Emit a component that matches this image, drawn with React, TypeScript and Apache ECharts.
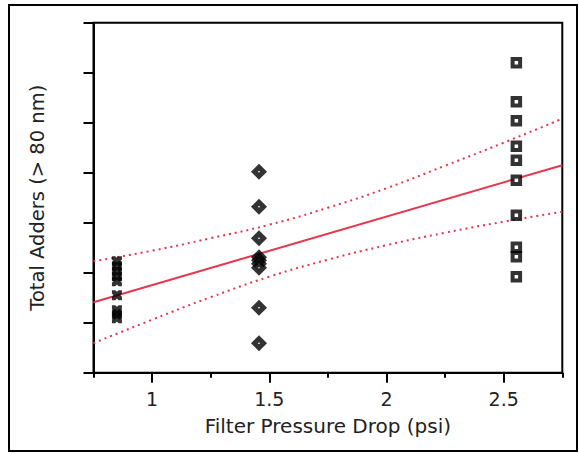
import React, { useEffect, useRef } from "react";
import * as echarts from "echarts";

// x positions of the three filter groups (psi)
const groupX = [0.85, 1.456, 2.554];
// Total adders (tick units, axis unlabeled)
const group1Y = [22.3, 21.3, 20.3, 19.3, 18.3, 15.5, 12.5, 11.7, 10.9];
const group2Y = [40.2, 33.2, 26.9, 23.1, 22.5, 21.8, 21.0, 13.0, 5.9];
const group3Y = [62.0, 54.2, 50.4, 45.3, 42.5, 38.5, 31.5, 25.1, 23.2, 19.2];

const fitX = [0.75, 2.75];
const fitY = [14.1, 41.5];

const bandX = [0.75, 1.0, 1.25, 1.5, 1.75, 2.0, 2.25, 2.5, 2.75];
const upperY = [22.3, 24.4, 26.9, 29.6, 33.0, 36.9, 41.4, 46.0, 50.8];
const lowerY = [5.9, 10.6, 15.1, 19.2, 22.6, 25.5, 28.0, 30.2, 32.2];

const majorTicks = [1, 1.5, 2, 2.5];
const minorTicks = [0.75, 1.25, 1.75, 2.25, 2.75];

const xName = "Filter Pressure Drop (psi)";
const yName = "Total Adders (> 80 nm)";

const pair = (xs: number[], ys: number[]) => ys.map((y, i) => [xs[i], y]);
const col = (x: number, ys: number[]) => ys.map((y) => [x, y]);

const X_PATH =
  "path://M0,0 L2.7,0 L4,1.3 L5.3,0 L8,0 L8,2.7 L6.7,4 L8,5.3 L8,8 L5.3,8 L4,6.7 L2.7,8 L0,8 L0,5.3 L1.3,4 L0,2.7 Z";

export default function App() {
  const ref = useRef<HTMLDivElement>(null);
  useEffect(() => {
    if (!ref.current) return;
    const chart = echarts.init(ref.current, undefined, { renderer: "svg" });
    const font = "DejaVu Sans";
    const red = "#e8354e";
    chart.setOption({
      animation: false,
      backgroundColor: "#fff",
      grid: {
        left: 93.5,
        top: 22.7,
        right: 16.7,
        bottom: 80.3,
        show: true,
        borderColor: "#000",
        borderWidth: 2,
        backgroundColor: "transparent",
      },
      graphic: [
        {
          type: "rect",
          shape: { x: 9, y: 5, width: 568, height: 446 },
          style: { fill: "none", stroke: "#000", lineWidth: 2 },
          silent: true,
        },
      ],
      xAxis: [
        {
          type: "value",
          min: 0.75,
          max: 2.75,
          interval: 0.25,
          name: xName,
          nameLocation: "middle",
          nameGap: 43,
          nameTextStyle: { fontFamily: font, fontSize: 20, color: "#222" },
          axisLine: { show: true, onZero: false, lineStyle: { color: "#000", width: 2 } },
          axisTick: {
            show: true,
            customValues: majorTicks,
            length: 10,
            lineStyle: { color: "#000", width: 2 },
          },
          axisLabel: {
            customValues: majorTicks,
            margin: 17,
            fontFamily: font,
            fontSize: 19,
            color: "#222",
          },
          splitLine: { show: false },
        },
        {
          type: "value",
          min: 0.75,
          max: 2.75,
          interval: 0.25,
          position: "bottom",
          axisLine: { show: false, onZero: false },
          axisTick: {
            show: true,
            customValues: minorTicks,
            length: 5,
            lineStyle: { color: "#000", width: 2 },
          },
          axisLabel: { show: false },
          splitLine: { show: false },
        },
      ],
      yAxis: {
        type: "value",
        min: 0,
        max: 70,
        interval: 10,
        name: yName,
        nameLocation: "middle",
        nameGap: 46,
        nameTextStyle: { fontFamily: font, fontSize: 19.5, color: "#222" },
        axisLine: { show: true, onZero: false, lineStyle: { color: "#000", width: 2 } },
        axisTick: { show: true, length: 10, lineStyle: { color: "#000", width: 2 } },
        axisLabel: { show: false },
        splitLine: { show: false },
      },
      series: [
        {
          type: "line",
          data: pair(bandX, upperY),
          smooth: true,
          symbol: "none",
          lineStyle: { color: red, width: 2, type: [2, 4] },
          z: 2,
        },
        {
          type: "line",
          data: pair(bandX, lowerY),
          smooth: true,
          symbol: "none",
          lineStyle: { color: red, width: 2, type: [2, 4] },
          z: 2,
        },
        {
          type: "line",
          data: pair(fitX, fitY),
          symbol: "none",
          lineStyle: { color: red, width: 2 },
          z: 2,
        },
        {
          type: "scatter",
          data: col(groupX[0], group1Y),
          symbol: X_PATH,
          symbolSize: 10,
          itemStyle: { color: "#000" },
          z: 3,
        },
        {
          type: "scatter",
          data: col(groupX[1], group2Y),
          symbol: "diamond",
          symbolSize: 9,
          itemStyle: { color: "#fff", borderColor: "#000", borderWidth: 5 },
          z: 3,
        },
        {
          type: "scatter",
          data: col(groupX[2], group3Y),
          symbol: "rect",
          symbolSize: 7.5,
          itemStyle: { color: "#fff", borderColor: "#000", borderWidth: 4 },
          z: 3,
        },
      ],
    });
    return () => chart.dispose();
  }, []);
  return (
    <div
      ref={ref}
      style={{ position: "absolute", left: 0, top: 0, width: 579, height: 453 }}
    />
  );
}
